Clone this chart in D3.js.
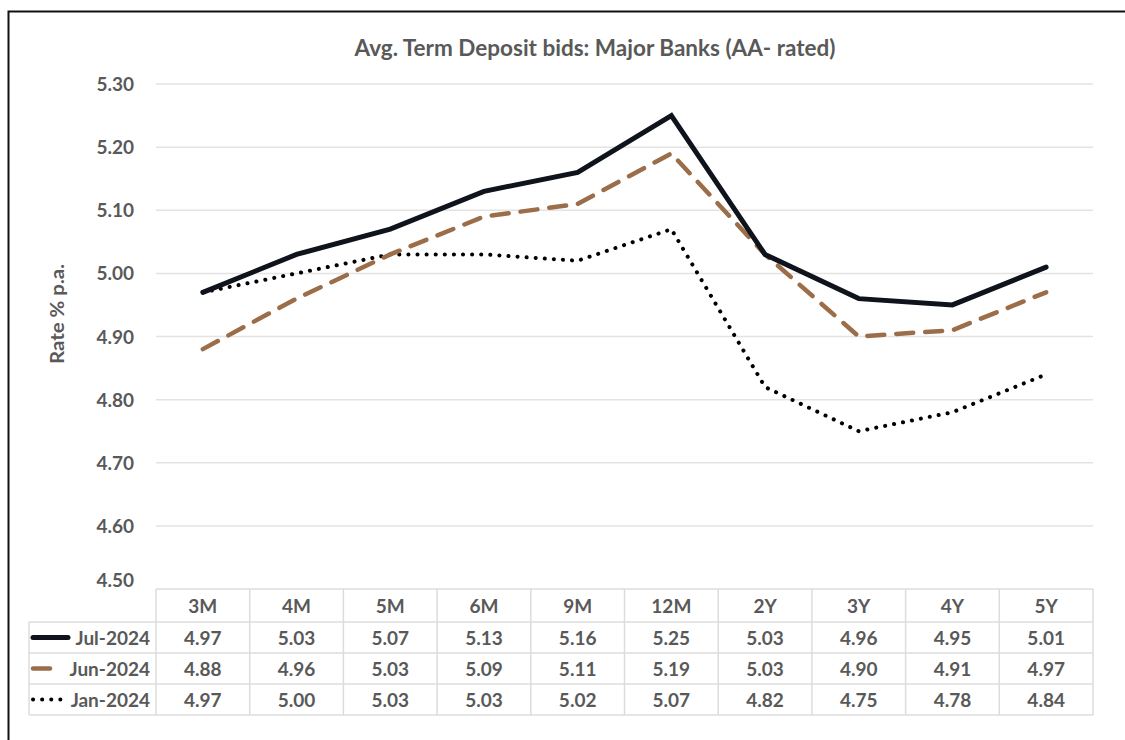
<!DOCTYPE html>
<html>
<head>
<meta charset="utf-8">
<script src="https://cdn.jsdelivr.net/npm/d3@7"></script>
<style>
  body { margin: 0; background: #fff; }
  svg { display: block; font-family: Lato, "Open Sans", sans-serif; }
</style>
</head>
<body>
<svg width="1125" height="740"></svg>
<script>
// chart data
const tenors = ["3M", "4M", "5M", "6M", "9M", "12M", "2Y", "3Y", "4Y", "5Y"];
const jul2024 = [4.97, 5.03, 5.07, 5.13, 5.16, 5.25, 5.03, 4.96, 4.95, 5.01];
const jun2024 = [4.88, 4.96, 5.03, 5.09, 5.11, 5.19, 5.03, 4.90, 4.91, 4.97];
const jan2024 = [4.97, 5.00, 5.03, 5.03, 5.02, 5.07, 4.82, 4.75, 4.78, 4.84];
const seriesNames = ["Jul-2024", "Jun-2024", "Jan-2024"];
const yTicks = [4.5, 4.6, 4.7, 4.8, 4.9, 5.0, 5.1, 5.2, 5.3];

const series = [
  {name: seriesNames[0], values: jul2024, color: "#0e131c", width: 5, dash: null},
  {name: seriesNames[1], values: jun2024, color: "#9c6d49", width: 4.5, dash: "17 12"},
  {name: seriesNames[2], values: jan2024, color: "#000000", width: 4, dash: "0.1 9"}
];

const svg = d3.select("svg");
const textCol = "#595959";
const gridCol = "#e3e3e3";
const fs = 19;

// frame
svg.append("path")
  .attr("d", "M8.5,740 V11.5 H1125")
  .attr("fill", "none").attr("stroke", "#111").attr("stroke-width", 2);

const plotL = 156, plotR = 1093;
const x = d3.scaleBand().domain(tenors).range([plotL, plotR]);
const y = d3.scaleLinear().domain([4.5, 5.3]).range([589, 84]);

svg.append("text")
  .attr("x", 595).attr("y", 56)
  .attr("text-anchor", "middle")
  .attr("font-size", 22.5).attr("font-weight", "bold")
  .attr("fill", textCol)
  .text("Avg. Term Deposit bids: Major Banks (AA- rated)");

// grid lines
svg.append("g").selectAll("line")
  .data(yTicks.slice(1))
  .enter().append("line")
  .attr("x1", plotL).attr("x2", plotR)
  .attr("y1", d => y(d)).attr("y2", d => y(d))
  .attr("stroke", gridCol).attr("stroke-width", 1.5);

// y tick labels
svg.append("g").selectAll("text")
  .data(yTicks)
  .enter().append("text")
  .attr("x", 134)
  .attr("y", d => y(d) + (d === 4.5 ? -2 : 7))
  .attr("text-anchor", "end")
  .attr("font-size", fs).attr("font-weight", "bold")
  .attr("fill", textCol)
  .text(d => d3.format(".2f")(d));

svg.append("text")
  .attr("transform", "translate(64,314) rotate(-90)")
  .attr("text-anchor", "middle")
  .attr("font-size", 19).attr("font-weight", "bold")
  .attr("textLength", 100).attr("lengthAdjust", "spacingAndGlyphs")
  .attr("fill", textCol)
  .text("Rate % p.a.");

// lines
const line = d3.line()
  .x((d, i) => x(tenors[i]) + x.bandwidth() / 2)
  .y(d => y(d));

svg.append("g").selectAll("path")
  .data(series.slice().reverse())
  .enter().append("path")
  .attr("d", d => line(d.values))
  .attr("fill", "none")
  .attr("stroke", d => d.color)
  .attr("stroke-width", d => d.width)
  .attr("stroke-dasharray", d => d.dash)
  .attr("stroke-linecap", "round")
  .attr("stroke-linejoin", "miter");

// data table
const tableTop = 589, headerH = 33, rowH = 31;
const legendL = 29;
const tbl = svg.append("g");
const borderCol = "#dcdcdc";

// horizontal rules
tbl.append("line")
  .attr("x1", plotL).attr("x2", plotR)
  .attr("y1", tableTop).attr("y2", tableTop)
  .attr("stroke", borderCol).attr("stroke-width", 1.5);
[0, 1, 2, 3].forEach(k => {
  const yy = tableTop + headerH + k * rowH;
  tbl.append("line")
    .attr("x1", legendL).attr("x2", plotR)
    .attr("y1", yy).attr("y2", yy)
    .attr("stroke", borderCol).attr("stroke-width", 1.5);
});
// vertical rules
tenors.concat(["end"]).forEach((t, i) => {
  const xx = i < tenors.length ? x(t) : plotR;
  tbl.append("line")
    .attr("x1", xx).attr("x2", xx)
    .attr("y1", tableTop).attr("y2", tableTop + headerH + 3 * rowH)
    .attr("stroke", borderCol).attr("stroke-width", 1.5);
});
tbl.append("line")
  .attr("x1", legendL).attr("x2", legendL)
  .attr("y1", tableTop + headerH).attr("y2", tableTop + headerH + 3 * rowH)
  .attr("stroke", borderCol).attr("stroke-width", 1.5);

// header labels
tbl.selectAll("text.hdr")
  .data(tenors)
  .enter().append("text")
  .attr("class", "hdr")
  .attr("x", d => x(d) + x.bandwidth() / 2)
  .attr("y", tableTop + headerH / 2 + 7)
  .attr("text-anchor", "middle")
  .attr("font-size", fs).attr("font-weight", "bold")
  .attr("fill", textCol)
  .text(d => d);

series.forEach((s, r) => {
  const cy = tableTop + headerH + r * rowH + rowH / 2;
  tbl.selectAll("text.v" + r)
    .data(s.values)
    .enter().append("text")
    .attr("class", "v" + r)
    .attr("x", (d, i) => x(tenors[i]) + x.bandwidth() / 2)
    .attr("y", cy + 7)
    .attr("text-anchor", "middle")
    .attr("font-size", fs).attr("font-weight", "bold")
    .attr("fill", textCol)
    .text(d => d3.format(".2f")(d));

  tbl.append("text")
    .attr("x", 150).attr("y", cy + 7)
    .attr("text-anchor", "end")
    .attr("font-size", fs).attr("font-weight", "bold")
    .attr("fill", textCol)
    .text(s.name);

  // legend keys
  const keyLen = r === 0 ? 35 : (r === 1 ? 17 : 30);
  tbl.append("line")
    .attr("x1", 33).attr("x2", 33 + keyLen)
    .attr("y1", cy).attr("y2", cy)
    .attr("stroke", s.color)
    .attr("stroke-width", s.width)
    .attr("stroke-dasharray", r === 1 ? null : s.dash)
    .attr("stroke-linecap", "round");
});
</script>
</body>
</html>
